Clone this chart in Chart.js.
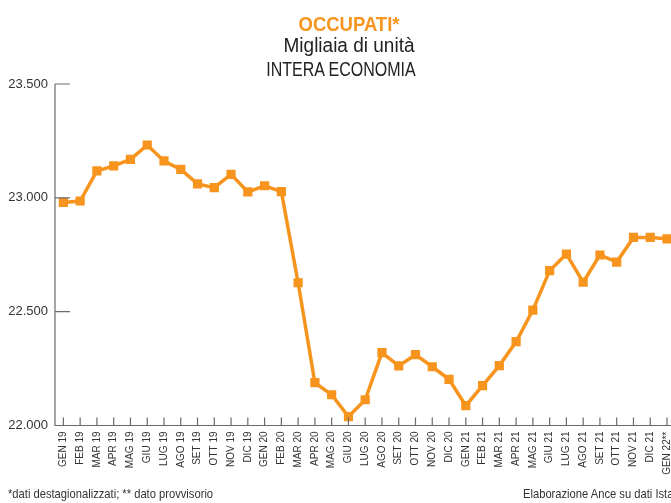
<!DOCTYPE html>
<html>
<head>
<meta charset="utf-8">
<script src="https://cdn.jsdelivr.net/npm/chart.js@4.4.1/dist/chart.umd.min.js"></script>
<style>
  html, body { margin: 0; padding: 0; background: #fff; }
  #wrap { position: relative; width: 671px; height: 503px; overflow: hidden; }
  #occupati { position: absolute; left: 0; top: 0; width: 685px; height: 503px; }
  .t { position: absolute; white-space: nowrap; font-family: "Liberation Sans", sans-serif; }
  #t1 { left: 349px; top: 12px; transform: translateX(-50%) scaleX(0.88); color: #f7941d; font-weight: bold; font-size: 21px; }
  #t2 { left: 349px; top: 34px; transform: translateX(-50%) scaleX(0.95); color: #222; font-size: 20px; }
  #t3 { left: 341px; top: 58px; transform: translateX(-50%) scaleX(0.8); color: #222; font-size: 20px; }
  #f1 { left: 8px; top: 486px; transform-origin: 0 0; transform: scaleX(0.86); color: #333; font-size: 13px; }
  #f2 { left: 523px; top: 486px; transform-origin: 0 0; transform: scaleX(0.86); color: #333; font-size: 13px; }
</style>
</head>
<body>
<div id="wrap">
  <canvas id="occupati" width="685" height="503"></canvas>
  <div class="t" id="t1">OCCUPATI*</div>
  <div class="t" id="t2">Migliaia di unità</div>
  <div class="t" id="t3">INTERA ECONOMIA</div>
  <div class="t" id="f1">*dati destagionalizzati; ** dato provvisorio</div>
  <div class="t" id="f2">Elaborazione Ance su dati Istat</div>
</div>
<script>
// Categorie (mesi)
const months = [
  'GEN 19', 'FEB 19', 'MAR 19', 'APR 19', 'MAG 19', 'GIU 19', 'LUG 19', 'AGO 19', 'SET 19', 'OTT 19', 'NOV 19', 'DIC 19',
  'GEN 20', 'FEB 20', 'MAR 20', 'APR 20', 'MAG 20', 'GIU 20', 'LUG 20', 'AGO 20', 'SET 20', 'OTT 20', 'NOV 20', 'DIC 20',
  'GEN 21', 'FEB 21', 'MAR 21', 'APR 21', 'MAG 21', 'GIU 21', 'LUG 21', 'AGO 21', 'SET 21', 'OTT 21', 'NOV 21', 'DIC 21',
  'GEN 22**'
];

// Occupati, migliaia di unità
const occupati = [
  22980, 22986, 23118, 23140, 23169, 23232, 23162, 23125, 23061, 23045, 23103, 23026,
  23053, 23027, 22627, 22188, 22135, 22039, 22113, 22320, 22262, 22311, 22258, 22203,
  22087, 22175, 22263, 22368, 22507, 22680, 22753, 22630, 22749, 22718, 22826, 22826,
  22820
];

const yTicks = [22000, 22500, 23000, 23500];

const orange = '#f7941d';
const axisColor = '#6b6b6b';

// assi + tick corti verso l'interno
const axisMarks = {
  id: 'axisMarks',
  afterDraw(chart) {
    const { ctx, chartArea, scales } = chart;
    const x = scales.x, y = scales.y;
    ctx.save();
    ctx.strokeStyle = axisColor;
    ctx.lineWidth = 1.2;
    ctx.beginPath();
    ctx.moveTo(chartArea.left, y.getPixelForValue(23500));
    ctx.lineTo(chartArea.left, chartArea.bottom);
    ctx.lineTo(671, chartArea.bottom);
    yTicks.forEach(v => {
      const py = y.getPixelForValue(v);
      ctx.moveTo(chartArea.left, py);
      ctx.lineTo(chartArea.left + 15, py);
    });
    months.forEach((m, i) => {
      const px = x.getPixelForValue(i);
      ctx.moveTo(px, chartArea.bottom);
      ctx.lineTo(px, chartArea.bottom - 8);
    });
    ctx.stroke();
    ctx.restore();
  }
};

new Chart(document.getElementById('occupati'), {
  type: 'line',
  data: {
    labels: months,
    datasets: [{
      data: occupati,
      borderColor: orange,
      backgroundColor: orange,
      borderWidth: 3.5,
      pointStyle: 'rect',
      pointRadius: 6.5,
      pointBorderWidth: 0,
      tension: 0
    }]
  },
  options: {
    responsive: false,
    animation: false,
    layout: { autoPadding: false, padding: { top: 84, right: 0, left: 0, bottom: 0 } },
    plugins: { legend: { display: false }, tooltip: { enabled: false } },
    scales: {
      x: {
        offset: true,
        grid: { display: false, drawTicks: false },
        border: { display: false },
        ticks: {
          autoSkip: false,
          minRotation: 90,
          maxRotation: 90,
          padding: 6,
          color: '#333',
          font: { family: '"Liberation Sans", sans-serif', size: 10 }
        },
        afterFit: s => { s.height = 77.5; }
      },
      y: {
        min: 22000,
        max: 23500,
        afterBuildTicks: s => { s.ticks = yTicks.map(v => ({ value: v })); },
        grid: { display: false, drawTicks: false },
        border: { display: false },
        ticks: {
          padding: 7,
          color: '#333',
          font: { family: '"Liberation Sans", sans-serif', size: 13 },
          callback: v => v.toLocaleString('de-DE')
        },
        afterFit: s => { s.width = 55; }
      }
    }
  },
  plugins: [axisMarks]
});
</script>
</body>
</html>
